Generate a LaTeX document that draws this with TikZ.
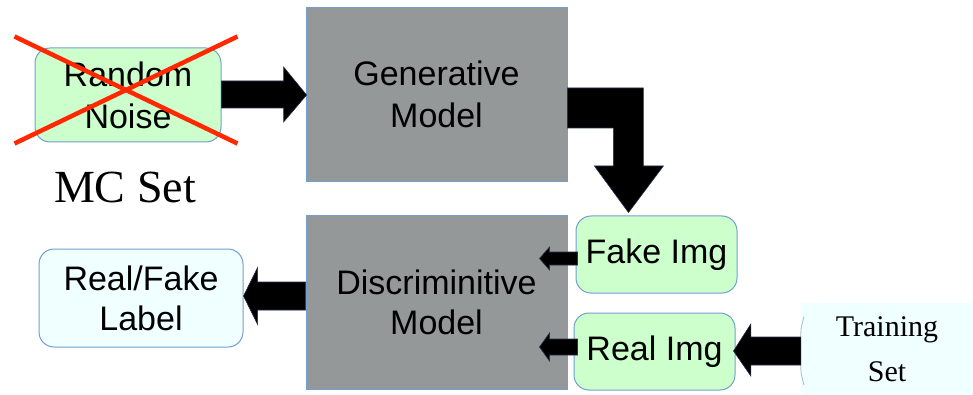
\documentclass[tikz,border=0pt]{standalone}
\usepackage{fontspec}
\setmainfont{Liberation Serif}
\setsansfont{Liberation Sans}
\usetikzlibrary{calc}
\definecolor{grn}{RGB}{204,255,204}
\definecolor{cyanl}{RGB}{240,255,255}
\definecolor{gry}{RGB}{149,152,152}
\definecolor{bdr}{RGB}{114,159,207}
\definecolor{xred}{RGB}{255,40,0}
\definecolor{arrowedge}{RGB}{40,50,80}
\begin{document}
\begin{tikzpicture}[x=1pt,y=-1pt,
  sanstext/.style={font=\sffamily\fontsize{34}{42}\selectfont,align=center,text=black},
  greenbox/.style={sanstext,draw=bdr,line width=1pt,fill=grn,rounded corners=15pt,inner sep=0pt},
  cyanbox/.style={sanstext,draw=bdr,line width=1pt,fill=cyanl,rounded corners=15pt,inner sep=0pt},
  graybox/.style={sanstext,draw=bdr,line width=0.8pt,fill=gry,inner sep=0pt},
  blk/.style={fill=black,draw=arrowedge,line width=0.6pt,line join=miter}
]
\useasboundingbox (0,0) rectangle (973,395);
\clip (0,0) rectangle (973,395);

% boxes
\node[greenbox,minimum width=186pt,minimum height=94pt] (noise) at (128,95) {Random\\Noise};
\node[graybox,minimum width=261pt,minimum height=174pt] (gen) at (436.5,94) {Generative\\Model};
\node[graybox,minimum width=261pt,minimum height=174pt,font=\sffamily\fontsize{34}{40}\selectfont] (disc) at (436.5,302) {Discriminitive\\Model};
\node[greenbox,minimum width=161pt,minimum height=77pt] (fake) at (656.5,254.5) {Fake Img};
\node[greenbox,minimum width=161pt,minimum height=77pt] (real) at (654.5,351.5) {Real Img};
\node[cyanbox,minimum width=204pt,minimum height=98pt,font=\sffamily\fontsize{34}{40}\selectfont] (label) at (141,298) {Real/Fake\\Label};
\node[fill=cyanl,inner sep=0pt,minimum width=172pt,minimum height=92pt,align=center,
      font=\rmfamily\fontsize{30}{45}\selectfont] (train) at (887,349) {Training\\Set};
\draw[bdr!70,line width=0.8pt] ($(train.north west)+(3,14)$) to[out=-100,in=90] ($(train.north west)+(0,30)$)
  -- ($(train.north west)+(0,66)$) to[out=-90,in=100] ($(train.north west)+(3,82)$);

% MC Set caption
\node[font=\rmfamily\fontsize{46}{50}\selectfont,anchor=base,inner sep=0pt] (mc) at (125,203) {MC Set};

% red cross over Random Noise
\coordinate (x1) at ($(noise.north west)+(-20,-11)$);
\coordinate (x2) at ($(noise.south east)+(16,1)$);
\coordinate (x3) at ($(noise.north east)+(16,-11)$);
\coordinate (x4) at ($(noise.south west)+(-20,1)$);
\draw[xred,line width=4.5pt] (x1) -- (x2);
\draw[xred,line width=4.5pt] (x3) -- (x4);

% arrow: noise -> gen
\path[blk] ($(noise.east |- gen.west)+(0,-13)$) -- ($(gen.west)+(-22,-13)$) -- ($(gen.west)+(-22,-27)$)
  -- ($(gen.west)+(1,1)$) -- ($(gen.west)+(-22,28)$) -- ($(gen.west)+(-22,14)$)
  -- ($(noise.east |- gen.west)+(0,14)$) -- cycle;

% bent arrow: gen -> fake
\path[blk] ($(gen.east)+(0,-6)$) -- ($(gen.east)+(76,-6)$) -- ($(gen.east)+(76,72)$)
  -- ($(gen.east)+(96,72)$) -- ($(fake.north)+(-28,-3)$) -- ($(gen.east)+(27,72)$)
  -- ($(gen.east)+(46,72)$) -- ($(gen.east)+(46,34)$) -- ($(gen.east)+(0,34)$) -- cycle;

% arrow: fake -> disc
\coordinate (fa) at ($(fake.west)+(2,4)$);
\path[blk] ($(fa)+(0,-6.5)$) -- ($(fa)+(-28,-6.5)$) -- ($(fa)+(-28,-11.5)$) -- ($(fa)+(-38,0)$)
  -- ($(fa)+(-28,11.5)$) -- ($(fa)+(-28,6.5)$) -- ($(fa)+(0,6.5)$) -- cycle;

% arrow: real -> disc
\coordinate (ra) at ($(real.west)+(4,-4.5)$);
\path[blk] ($(ra)+(0,-8)$) -- ($(ra)+(-28,-8)$) -- ($(ra)+(-28,-14)$) -- ($(ra)+(-38,0)$)
  -- ($(ra)+(-28,14)$) -- ($(ra)+(-28,8)$) -- ($(ra)+(0,8)$) -- cycle;

% arrow: train -> real
\coordinate (ta) at ($(train.west)+(0,2)$);
\path[blk] ($(ta)+(0,-14)$) -- ($(ta)+(-50,-14)$) -- ($(ta)+(-50,-27)$) -- ($(real.east |- ta)+(-2,0)$)
  -- ($(ta)+(-50,25)$) -- ($(ta)+(-50,14)$) -- ($(ta)+(0,14)$) -- cycle;

% arrow: disc -> label
\coordinate (la) at ($(disc.west)+(0,-6)$);
\path[blk] ($(la)+(0,-14)$) -- ($(la)+(-48,-14)$) -- ($(la)+(-48,-28.5)$) -- ($(label.east |- la)+(0,0)$)
  -- ($(la)+(-48,28.5)$) -- ($(la)+(-48,14)$) -- ($(la)+(0,14)$) -- cycle;
\end{tikzpicture}
\end{document}
